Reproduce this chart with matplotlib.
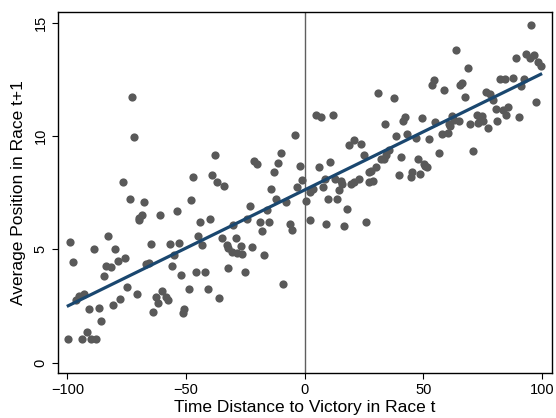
import matplotlib

matplotlib.use("Agg")
import matplotlib.pyplot as plt
import numpy as np

# Scatter points (x = time distance, y = avg position)
dist_left = [
    -72.8, -71.8, -76.7, -73.6, -67.8, -69.7, -68.6, -61.0, -54.0,
    -98.7, -97.6, -82.7, -88.7, -79.8, -64.9, -56.9, -53.0, -55.1, -75.6,
    -78.8, -83.7, -81.6, -66.9, -65.6, -56.1, -51.9, -84.6, -92.8, -96.2,
    -74.9, -90.7, -86.7, -77.7, -80.8, -70.8, -85.8, -91.8, -99.6, -93.7,
    -90.0, -87.9, -63.9, -62.8, -61.6, -60.0, -58.6, -57.4, -50.9, -51.2,
    -69.9, -95.0,
    -4.2, -37.9, -21.2, -20.2, -10.0, -11.2, -2.1, -13.1, -47.0, -39.0,
    -37.0, -34.0, -1.1, -3.1, -14.1, -48.0, -12.1, -7.7, -23.0, -16.0,
    -43.9, -40.0, -30.3, -24.1, -19.0, -15.1, -18.1, -6.0, -5.3, -44.9,
    -34.9, -32.8, -29.0, -26.9, -22.0, -43.2,
    -32.1, -30.7, -28.6, -26.5, -17.2, -45.7, -41.8, -32.1, -25.1, -48.8,
    -40.9, -35.9, -9.1,
]
pos_left = [
    11.7, 9.96, 7.99, 7.2, 7.1, 6.4, 6.5, 6.5, 6.67,
    5.33, 4.42, 5.6, 5.0, 5.0, 5.25, 5.23, 5.29, 4.75, 4.6,
    4.5, 4.27, 4.2, 4.36, 4.39, 4.27, 3.88, 3.81, 3.05, 2.75,
    3.33, 2.35, 2.43, 2.82, 2.53, 3.04, 1.85, 1.37, 1.05, 1.05,
    1.05, 1.05, 2.24, 2.89, 2.65, 3.15, 2.9, 2.76, 2.38, 2.17,
    6.28, 2.95,
    10.06, 9.14, 8.9, 8.75, 9.23, 8.82, 8.68, 8.39, 8.2, 8.27,
    7.98, 7.8, 8.05, 7.73, 7.66, 7.18, 7.2, 7.08, 6.9, 6.72,
    6.2, 6.32, 6.09, 6.32, 6.2, 6.2, 5.81, 6.1, 5.87, 5.58,
    5.48, 5.19, 5.52, 5.15, 5.12, 5.19,
    5.04, 4.9, 4.83, 4.8, 4.74, 4.01, 4.01, 4.19, 4.01, 3.26,
    3.26, 2.83, 3.45,
]
dist_right = [
    0.7, 2.3,
    30.7, 37.7, 4.6, 7.0, 11.8, 42.3, 41.4, 49.5, 33.8, 38.4,
    43.2, 46.7, 52.3, 20.6, 18.8, 23.7, 24.8, 35.6, 34.4, 33.5,
    32.1, 40.7, 47.7, 50.6, 10.8, 5.9, 30.0, 27.9, 27.2, 39.7,
    45.3, 44.6, 48.4, 8.4, 12.6, 15.4, 15.8, 19.5, 20.9, 22.7,
    27.2, 28.6, 7.7, 3.5, 2.1, 14.6, 9.7, 13.7, 17.9, 8.8,
    16.7, 25.8,
    95.5, 63.7, 93.4, 96.7, 94.9, 98.3, 99.4, 89.2, 68.6, 54.4,
    53.7, 58.9, 66.2, 65.6, 67.7, 82.3, 84.4, 87.9, 92.5, 91.3,
    76.3, 78.1, 79.5, 97.3, 55.1, 62.1, 62.8, 64.9, 60.7, 61.4,
    57.9, 60.4, 69.7, 72.5, 73.9, 73.2, 75.3, 74.6, 77.4, 81.2,
    80.5, 83.7, 85.8, 84.6, 90.2,
    50.2, 51.6, 56.5, 70.8,
]
pos_right = [
    7.15, 6.28,
    11.88, 11.69, 10.93, 10.83, 10.93, 10.82, 10.64, 10.79, 10.54, 10.01,
    10.1, 9.92, 9.88, 9.84, 9.58, 9.66, 9.15, 9.36, 9.18, 8.97,
    8.97, 9.07, 8.97, 8.68, 8.87, 8.61, 8.61, 8.46, 8.39, 8.29,
    8.39, 8.17, 8.31, 8.09, 8.09, 8.02, 7.88, 7.88, 7.95, 8.09,
    7.99, 8.02, 7.76, 7.66, 7.52, 7.62, 7.23, 7.23, 6.79, 6.13,
    6.03, 6.2,
    14.9, 13.81, 13.63, 13.59, 13.42, 13.26, 13.08, 13.45, 13.01, 12.45,
    12.23, 12.02, 12.33, 12.23, 11.73, 12.5, 12.53, 12.57, 12.53, 12.21,
    11.95, 11.84, 11.58, 11.51, 10.6, 10.86, 10.71, 10.64, 10.54, 10.44,
    10.1, 10.14, 10.54, 10.93, 10.79, 10.57, 10.64, 10.86, 10.37, 10.64,
    11.19, 11.14, 11.26, 10.93, 10.82,
    8.75, 8.63, 9.23, 9.32,
]

# fitted line as it appears in the reference (intercept, slope)
fit_intercept = 7.62
fit_slope = 0.0513

x_ticks = [-100, -50, 0, 50, 100]
y_ticks = [0, 5, 10, 15]

plt.rcParams["font.family"] = ["Liberation Sans", "DejaVu Sans"]

x = np.array(dist_left + dist_right)
y = np.array(pos_left + pos_right)

fig = plt.figure(figsize=(5.56, 4.18), dpi=100)
ax = fig.add_axes([0.104, 0.108, 0.888, 0.864])

ax.axvline(0, color="#5f5f5f", linewidth=1.0, zorder=1)
ax.scatter(x, y, s=35, color="#595959", linewidths=0, zorder=2)

# linear fit drawn over the observed range
xs = np.array([x.min(), x.max()])
ax.plot(xs, fit_intercept + fit_slope * xs, color="#1a476f", linewidth=2.3, zorder=3)

ax.set_xlim(-104, 104)
ax.set_ylim(-0.45, 15.48)
ax.set_xticks(x_ticks)
ax.set_yticks(y_ticks)
ax.tick_params(direction="out", length=4, width=0.8, labelsize=10.5, colors="black")
for lab in ax.get_yticklabels():
    lab.set_rotation(90)
    lab.set_va("center")

for sp in ax.spines.values():
    sp.set_linewidth(1.0)

ax.set_xlabel("Time Distance to Victory in Race t", fontsize=12.5, labelpad=2)
ax.set_ylabel("Average Position in Race t+1", fontsize=12.5, labelpad=5)

fig.savefig("out.png", dpi=100)
